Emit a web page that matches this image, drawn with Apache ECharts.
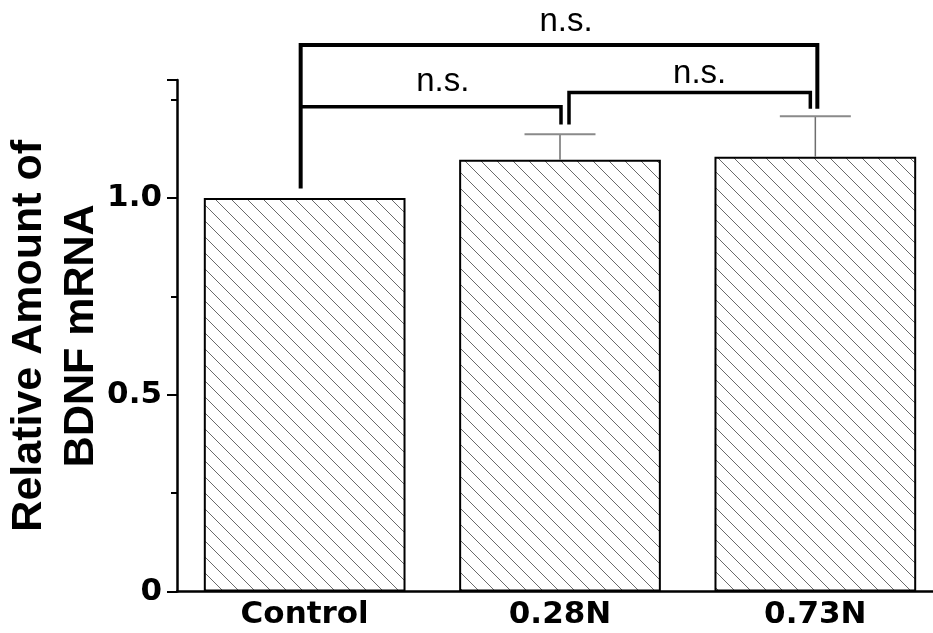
<!DOCTYPE html>
<html>
<head>
<meta charset="utf-8">
<script src="https://cdn.jsdelivr.net/npm/echarts@6/dist/echarts.min.js"></script>
<style>
html,body{margin:0;padding:0;background:#fff;}
#chart{width:933px;height:633px;}
</style>
</head>
<body>
<div id="chart"></div>
<script>
// ---- data ----
var categories = ['Control', '0.28N', '0.73N'];
var means = [1.0, 1.097, 1.105];
var sems = [0, 0.065, 0.103];
var yTicks = [0, 0.5, 1.0];
// brackets: [fromIndex, toIndex, barY, leftEndY, rightEndY]
var bracketFrom = [0, 0, 1];
var bracketTo = [2, 1, 2];
var bracketLevel = [1.389, 1.232, 1.268];
var bracketLeftEnd = [1.024, 1.232, 1.187];
var bracketRightEnd = [1.227, 1.187, 1.227];
var bracketLabels = ['n.s.', 'n.s.', 'n.s.'];

// ---- styles ----
var FONT = 'Liberation Sans, Arial, Helvetica, sans-serif';
var FONT_WIDE = 'DejaVu Sans, Liberation Sans, Arial, sans-serif';
var legOffsetL = [-4, -4, 9];
var legOffsetR = [2, 1, -5];
var bracketWidth = [4, 3.5, 3.5];
var labelGap = [7, 8, 2];
var labelShift = [7, 12, 10];

function hatch() {
  var s = 16;
  var c = document.createElement('canvas');
  c.width = s; c.height = s;
  var g = c.getContext('2d');
  g.fillStyle = '#ffffff';
  g.fillRect(0, 0, s, s);
  g.strokeStyle = '#6a6a6a';
  g.lineWidth = 1;
  g.beginPath();
  g.moveTo(-2, -2); g.lineTo(s + 2, s + 2);
  g.moveTo(-2, s - 2); g.lineTo(2, s + 2);
  g.moveTo(s - 2, -2); g.lineTo(s + 2, 2);
  g.stroke();
  return c;
}

var chart = echarts.init(document.getElementById('chart'), null, {renderer: 'canvas'});

var errData = means.map(function (m, i) { return [i, m, sems[i]]; });
var bracketData = bracketFrom.map(function (f, i) { return [f, bracketTo[i], bracketLevel[i]]; });

var option = {
  backgroundColor: '#ffffff',
  animation: false,
  grid: {left: 177, right: -10, top: 80, bottom: 41.5, containLabel: false, outerBoundsMode: 'none'},
  xAxis: {
    type: 'category',
    data: categories,
    axisLine: {lineStyle: {color: '#000', width: 2.5}},
    axisTick: {show: false},
    axisLabel: {
      color: '#000', fontFamily: FONT_WIDE, fontWeight: 'bold', fontSize: 31, margin: 8
    }
  },
  yAxis: {
    type: 'value',
    min: 0, max: 1.3, interval: 0.5,
    name: 'Relative Amount of\nBDNF mRNA',
    nameLocation: 'middle',
    nameRotate: 90,
    nameGap: 70,
    nameMoveOverlap: false,
    nameTextStyle: {
      color: '#000', fontFamily: FONT, fontWeight: 'bold', fontSize: 43, lineHeight: 52
    },
    axisLine: {show: true, lineStyle: {color: '#000', width: 2.5}},
    axisTick: {show: true, length: 10, lineStyle: {color: '#000', width: 2}},
    minorTick: {show: true, splitNumber: 2, length: 6, lineStyle: {color: '#000', width: 2}},
    splitLine: {show: false},
    axisLabel: {
      color: '#000', fontFamily: FONT_WIDE, fontWeight: 'bold', fontSize: 31, margin: 15,
      formatter: function (v) {
        if (yTicks.indexOf(v) < 0) return '';
        return v === 0 ? '0' : v.toFixed(1);
      }
    }
  },
  series: [
    {
      type: 'bar',
      data: means,
      barWidth: '79%',
      itemStyle: {
        color: {image: hatch(), repeat: 'repeat'},
        borderColor: '#000',
        borderWidth: 2
      },
      z: 2
    },
    {
      type: 'custom',
      data: errData,
      z: 3,
      renderItem: function (params, api) {
        var x = api.value(0), m = api.value(1), s = api.value(2);
        if (!s) return null;
        var base = api.coord([x, m]);
        var top = api.coord([x, m + s]);
        var half = api.size([1, 0])[0] * 0.139;
        return {
          type: 'group',
          children: [
            {type: 'line', shape: {x1: base[0], y1: base[1], x2: top[0], y2: top[1]},
             style: {stroke: '#6e6e6e', lineWidth: 1.5}},
            {type: 'line', shape: {x1: top[0] - half, y1: top[1], x2: top[0] + half, y2: top[1]},
             style: {stroke: '#8a8a8a', lineWidth: 2}}
          ]
        };
      }
    },
    {
      type: 'custom',
      data: bracketData,
      z: 4,
      clip: false,
      renderItem: function (params, api) {
        var i = params.dataIndex;
        var pL = api.coord([bracketFrom[i], bracketLevel[i]]);
        var pR = api.coord([bracketTo[i], bracketLevel[i]]);
        var yLe = api.coord([bracketFrom[i], bracketLeftEnd[i]])[1];
        var yRe = api.coord([bracketTo[i], bracketRightEnd[i]])[1];
        var xl = pL[0] + legOffsetL[i];
        var xr = pR[0] + legOffsetR[i];
        var y = pL[1];
        return {
          type: 'group',
          children: [
            {type: 'polyline', shape: {points: [[xl, yLe], [xl, y], [xr, y], [xr, yRe]]},
             style: {stroke: '#000', lineWidth: bracketWidth[i], fill: null, lineJoin: 'miter'}},
            {type: 'text', x: (xl + xr) / 2 + labelShift[i], y: y - labelGap[i],
             style: {text: bracketLabels[i], fill: '#000', fontFamily: FONT, fontSize: 33,
                     align: 'center', verticalAlign: 'bottom'}}
          ]
        };
      }
    }
  ]
};
chart.setOption(option);
</script>
</body>
</html>
